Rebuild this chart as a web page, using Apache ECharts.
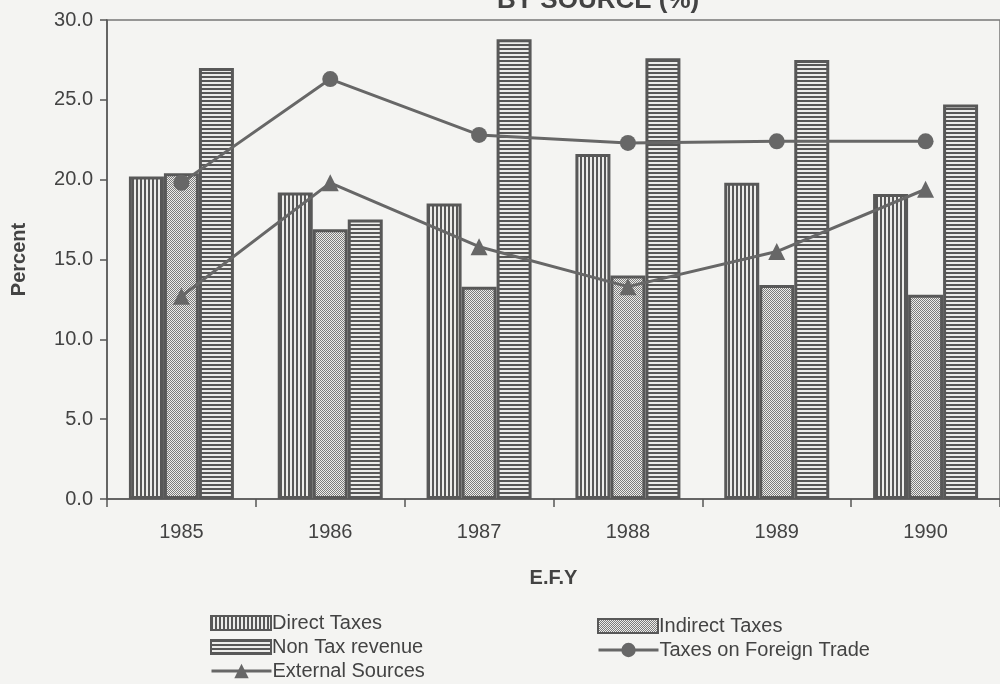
<!DOCTYPE html>
<html>
<head>
<meta charset="utf-8">
<script src="https://cdn.jsdelivr.net/npm/echarts@6/dist/echarts.min.js"></script>
<style>
  html, body { margin: 0; padding: 0; background: #f4f4f2; }
  #chart { width: 1000px; height: 684px; }
</style>
</head>
<body>
<div id="chart"></div>
<script>
// Revenue shares by source, Ethiopian fiscal years
const years = ['1985', '1986', '1987', '1988', '1989', '1990'];
const directTaxes = [20.2, 19.2, 18.5, 21.6, 19.8, 19.1];
const indirectTaxes = [20.4, 16.9, 13.3, 14.0, 13.4, 12.8];
const nonTaxRevenue = [27.0, 17.5, 28.8, 27.6, 27.5, 24.7];
const foreignTrade = [19.8, 26.3, 22.8, 22.3, 22.4, 22.4];
const externalSources = [12.7, 19.8, 15.8, 13.3, 15.5, 19.4];
const yTicks = { min: 0, max: 30, step: 5 };

const FONT = '"Liberation Sans", Arial, sans-serif';
const INK = '#434343';
const BAR_EDGE = '#585858';
const LINE = '#676767';

// Small tiled fills for the hatched bars
function tile(w, h, draw) {
  const c = document.createElement('canvas');
  c.width = w; c.height = h;
  const g = c.getContext('2d');
  draw(g);
  return { image: c, repeat: 'repeat' };
}
const verticalHatch = tile(4, 4, g => {
  g.fillStyle = '#ececea'; g.fillRect(0, 0, 4, 4);
  g.fillStyle = '#575757'; g.fillRect(0, 0, 2, 4);
});
const horizontalHatch = tile(4, 4, g => {
  g.fillStyle = '#ececea'; g.fillRect(0, 0, 4, 4);
  g.fillStyle = '#575757'; g.fillRect(0, 0, 4, 2);
});
const dotHatch = tile(2, 2, g => {
  g.fillStyle = '#ededeb'; g.fillRect(0, 0, 2, 2);
  g.fillStyle = '#7c7c7c';
  g.fillRect(0, 0, 1, 1);
  g.fillRect(1, 1, 1, 1);
});

const barStyle = fill => ({ color: fill, borderColor: BAR_EDGE, borderWidth: 3 });

// One legend block per entry so each can sit where it belongs
function legendEntry(name, left, centerY, isLine) {
  return {
    data: [{ name, icon: isLine ? undefined : 'rect' }],
    left, top: centerY - 10, padding: 0,
    itemWidth: 60, itemHeight: isLine ? 18 : 14,
    lineStyle: { width: 3 },
    textStyle: { fontFamily: FONT, fontSize: 20, lineHeight: 20, color: INK,
                 padding: [0, 0, 0, -4] }
  };
}

const chart = echarts.init(document.getElementById('chart'));
chart.setOption({
  backgroundColor: '#f4f4f2',
  animation: false,
  textStyle: { fontFamily: FONT, color: INK },
  title: {
    text: 'BY SOURCE (%)',
    left: 492, top: -17,
    textStyle: { fontFamily: FONT, fontSize: 26, fontWeight: 'bold', color: INK }
  },
  grid: {
    left: 107, top: 20, width: 903, height: 479,
    show: true, borderColor: '#777', borderWidth: 1.5, backgroundColor: 'transparent'
  },
  legend: [
    legendEntry('Direct Taxes', 210, 623, false),
    legendEntry('Non Tax revenue', 210, 647, false),
    legendEntry('External Sources', 210, 671, true),
    legendEntry('Indirect Taxes', 597, 626, false),
    legendEntry('Taxes on Foreign Trade', 597, 650, true)
  ],
  xAxis: {
    type: 'category',
    data: years,
    name: 'E.F.Y',
    nameLocation: 'middle',
    nameGap: 69,
    nameTextStyle: { fontFamily: FONT, fontSize: 20, fontWeight: 'bold', color: INK },
    axisLine: { lineStyle: { color: '#555', width: 1.5 } },
    axisTick: { show: true, length: 8, lineStyle: { color: '#555', width: 1.5 } },
    axisLabel: { fontFamily: FONT, fontSize: 20, color: INK, margin: 23 }
  },
  yAxis: {
    type: 'value',
    min: yTicks.min, max: yTicks.max, interval: yTicks.step,
    name: 'Percent',
    nameLocation: 'middle',
    nameGap: 78,
    nameTextStyle: { fontFamily: FONT, fontSize: 20, fontWeight: 'bold', color: INK },
    axisLine: { show: true, lineStyle: { color: '#555', width: 1.5 } },
    axisTick: { show: true, length: 7, lineStyle: { color: '#555', width: 1.5 } },
    axisLabel: { fontFamily: FONT, fontSize: 20, color: INK, margin: 14,
                 formatter: v => v.toFixed(1) },
    splitLine: { show: false }
  },
  series: [
    { name: 'Direct Taxes', type: 'bar', data: directTaxes, barWidth: 35, barGap: '0%',
      itemStyle: barStyle(verticalHatch) },
    { name: 'Indirect Taxes', type: 'bar', data: indirectTaxes, barWidth: 35, barGap: '0%',
      itemStyle: barStyle(dotHatch) },
    { name: 'Non Tax revenue', type: 'bar', data: nonTaxRevenue, barWidth: 35, barGap: '0%',
      itemStyle: barStyle(horizontalHatch) },
    { name: 'Taxes on Foreign Trade', type: 'line', data: foreignTrade, z: 5,
      symbol: 'circle', symbolSize: 16,
      lineStyle: { color: LINE, width: 3 }, itemStyle: { color: LINE } },
    { name: 'External Sources', type: 'line', data: externalSources, z: 5,
      symbol: 'triangle', symbolSize: 17,
      lineStyle: { color: LINE, width: 3 }, itemStyle: { color: LINE } }
  ]
});
</script>
</body>
</html>
